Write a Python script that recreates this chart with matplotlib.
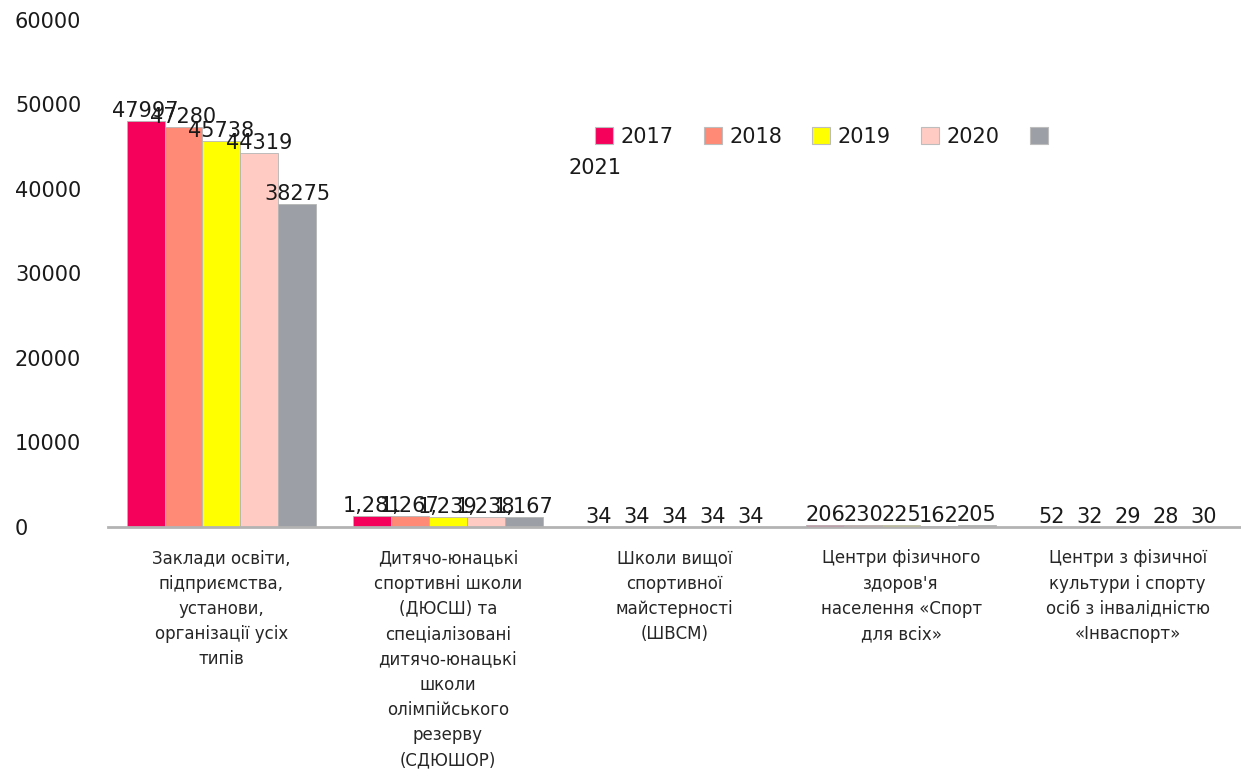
import matplotlib
matplotlib.use("Agg")
import matplotlib.pyplot as plt
import numpy as np
from matplotlib.patches import Patch

categories = [
    "Заклади освіти,\nпідприємства,\nустанови,\nорганізації усіх\nтипів",
    "Дитячо-юнацькі\nспортивні школи\n(ДЮСШ) та\nспеціалізовані\nдитячо-юнацькі\nшколи\nолімпійського\nрезерву\n(СДЮШОР)",
    "Школи вищої\nспортивної\nмайстерності\n(ШВСМ)",
    "Центри фізичного\nздоров'я\nнаселення «Спорт\nдля всіх»",
    "Центри з фізичної\nкультури і спорту\nосіб з інвалідністю\n«Інваспорт»",
]
years = ["2017", "2018", "2019", "2020", "2021"]
v2017 = [47997, 1281, 34, 206, 52]
v2018 = [47280, 1267, 34, 230, 32]
v2019 = [45738, 1239, 34, 225, 29]
v2020 = [44319, 1238, 34, 162, 28]
v2021 = [38275, 1167, 34, 205, 30]
series = [v2017, v2018, v2019, v2020, v2021]
colors = ["#F5005A", "#FF8A75", "#FFFF00", "#FFCBC3", "#9C9FA6"]
yticks = [0, 10000, 20000, 30000, 40000, 50000, 60000]

plt.rcParams['font.family'] = ['DejaVu Sans']
fig = plt.figure(figsize=(12.41, 7.74), dpi=100)
ax = fig.add_axes([108/1241, 1-527/774, 1-108/1241, 507/774])

x = np.arange(len(categories))
w = 0.167
for i, (vals, c) in enumerate(zip(series, colors)):
    pos = x + (i - 2) * w
    ax.bar(pos, vals, width=w, color=c, edgecolor="#b5b5b5", linewidth=0.6, zorder=2)
    for j, (p, v) in enumerate(zip(pos, vals)):
        lab = f"{v:,}" if j == 1 else f"{v}"
        ax.annotate(lab, (p, v), xytext=(0, 0), textcoords="offset points",
                    ha="center", va="bottom", fontsize=15, color="#1a1a1a", zorder=3)

ax.set_xlim(-0.5, 4.5)
ax.set_ylim(0, 60000)
ax.set_yticks(yticks)
ax.set_yticklabels([str(t) for t in yticks], fontsize=15, color="#1a1a1a")
for lab in ax.get_yticklabels():
    lab.set_horizontalalignment("left")
ax.tick_params(axis="y", length=0, pad=67)
ax.set_xticks(x)
ax.set_xticklabels(categories, fontsize=12, color="#262626", linespacing=1.52, va="top")
ax.tick_params(axis="x", length=0, pad=16)
for s in ["top", "right", "left"]:
    ax.spines[s].set_visible(False)
ax.spines["bottom"].set_color("#b3b3b3")
ax.spines["bottom"].set_linewidth(2)

handles = [Patch(facecolor=c, edgecolor="#bdbdbd", linewidth=0.8) for c in colors]
leg = fig.legend(handles, years[:4] + [""], loc="center left",
                 bbox_to_anchor=(595/1241, 1-137/774), ncol=5, frameon=False,
                 fontsize=15, handlelength=0.87, handleheight=0.87,
                 handletextpad=0.35, columnspacing=1.45, borderpad=0, borderaxespad=0)
for t in leg.get_texts():
    t.set_color("#1a1a1a")
fig.text(568/1241, 1-168/774, years[4], fontsize=15, color="#1a1a1a", ha="left", va="center")

fig.savefig("out.png", dpi=100, facecolor="white")
